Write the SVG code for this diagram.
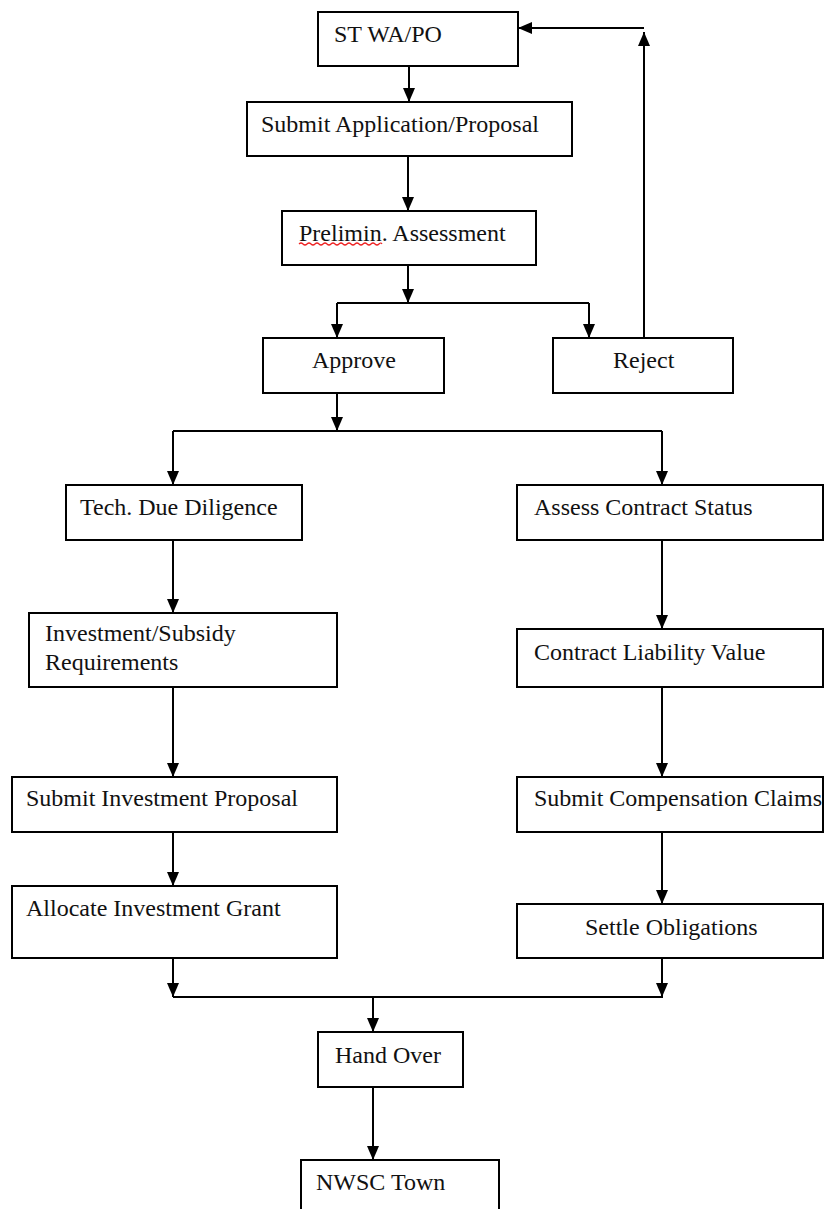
<svg xmlns="http://www.w3.org/2000/svg" width="834" height="1209" viewBox="0 0 834 1209">
<style>
.box{fill:#fff;stroke:#000;stroke-width:2}
.t{font-family:"Liberation Serif","Times New Roman",serif;font-size:24px;fill:#111}
.c{fill:none;stroke:#000;stroke-width:2}
</style>
<defs>
<marker id="ah" markerUnits="userSpaceOnUse" markerWidth="14" markerHeight="12" refX="14" refY="6" orient="auto">
<path d="M0,0 L14,6 L0,12 z" fill="#000"/>
</marker>
</defs>
<rect width="834" height="1209" fill="#fff"/>
<g id="connectors">
<path class="c" d="M409,66 V102" marker-end="url(#ah)"/>
<path class="c" d="M408,156 V211" marker-end="url(#ah)"/>
<path class="c" d="M408,265 V303" marker-end="url(#ah)"/>
<path class="c" d="M337,303 H589"/>
<path class="c" d="M337,303 V338" marker-end="url(#ah)"/>
<path class="c" d="M589,303 V338" marker-end="url(#ah)"/>
<path class="c" d="M644,338 V32" marker-end="url(#ah)"/>
<path class="c" d="M644,28 H518" marker-end="url(#ah)"/>
<path class="c" d="M337,393 V431" marker-end="url(#ah)"/>
<path class="c" d="M173,431 H662"/>
<path class="c" d="M173,431 V485" marker-end="url(#ah)"/>
<path class="c" d="M662,431 V485" marker-end="url(#ah)"/>
<path class="c" d="M173,540 V613" marker-end="url(#ah)"/>
<path class="c" d="M173,687 V777" marker-end="url(#ah)"/>
<path class="c" d="M173,832 V886" marker-end="url(#ah)"/>
<path class="c" d="M662,540 V629" marker-end="url(#ah)"/>
<path class="c" d="M662,687 V777" marker-end="url(#ah)"/>
<path class="c" d="M662,832 V904" marker-end="url(#ah)"/>
<path class="c" d="M173,958 V997" marker-end="url(#ah)"/>
<path class="c" d="M662,958 V997" marker-end="url(#ah)"/>
<path class="c" d="M173,997 H663"/>
<path class="c" d="M373,997 V1032" marker-end="url(#ah)"/>
<path class="c" d="M373,1087 V1160" marker-end="url(#ah)"/>
</g>
<g id="n-stwapo"><rect class="box" x="318" y="12" width="200" height="54"/><text class="t" x="334" y="42">ST WA/PO</text></g>
<g id="n-submitapp"><rect class="box" x="247" y="102" width="325" height="54"/><text class="t" x="261" y="132">Submit Application/Proposal</text></g>
<g id="n-prelim"><rect class="box" x="282" y="211" width="254" height="54"/><text class="t" x="299" y="241">Prelimin. Assessment</text><path d="M299,244 q2,-2 4,0 t4,0 t4,0 t4,0 t4,0 t4,0 t4,0 t4,0 t4,0 t4,0 t4,0 t4,0 t4,0 t4,0 t4,0 t4,0 t4,0 t4,0 t4,0 t4,0 t3,0" fill="none" stroke="#e22" stroke-width="1.2"/></g>
<g id="n-approve"><rect class="box" x="263" y="338" width="181" height="55"/><text class="t" x="312" y="368">Approve</text></g>
<g id="n-reject"><rect class="box" x="553" y="338" width="180" height="55"/><text class="t" x="613" y="368">Reject</text></g>
<g id="n-tech"><rect class="box" x="66" y="485" width="236" height="55"/><text class="t" x="80" y="515">Tech. Due Diligence</text></g>
<g id="n-assess"><rect class="box" x="517" y="485" width="306" height="55"/><text class="t" x="534" y="515">Assess Contract Status</text></g>
<g id="n-invreq"><rect class="box" x="29" y="613" width="308" height="74"/><text class="t" x="45" y="641">Investment/Subsidy</text><text class="t" x="45" y="670">Requirements</text></g>
<g id="n-liability"><rect class="box" x="517" y="629" width="306" height="58"/><text class="t" x="534" y="660">Contract Liability Value</text></g>
<g id="n-subinv"><rect class="box" x="12" y="777" width="325" height="55"/><text class="t" x="26" y="806">Submit Investment Proposal</text></g>
<g id="n-subcomp"><rect class="box" x="517" y="777" width="306" height="55"/><text class="t" x="534" y="806">Submit Compensation Claims</text></g>
<g id="n-allocate"><rect class="box" x="12" y="886" width="325" height="72"/><text class="t" x="26" y="916">Allocate Investment Grant</text></g>
<g id="n-settle"><rect class="box" x="517" y="904" width="306" height="54"/><text class="t" x="585" y="935">Settle Obligations</text></g>
<g id="n-handover"><rect class="box" x="318" y="1032" width="145" height="55"/><text class="t" x="335" y="1063">Hand Over</text></g>
<g id="n-nwsc"><rect class="box" x="301" y="1160" width="198" height="70"/><text class="t" x="316" y="1190">NWSC Town</text></g>
</svg>
